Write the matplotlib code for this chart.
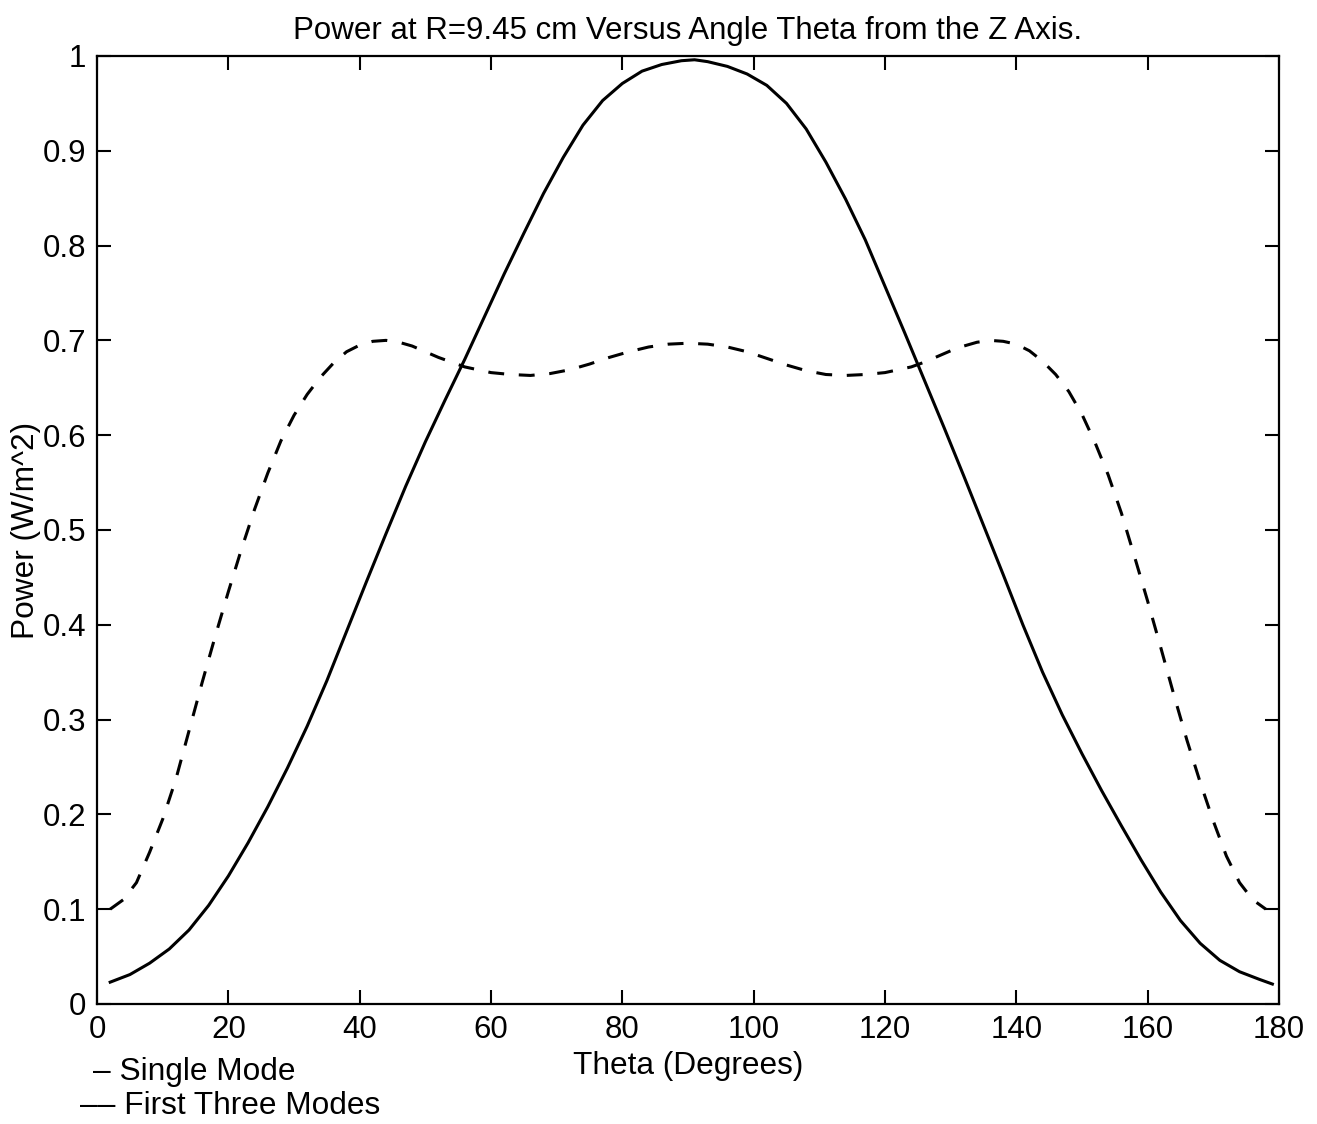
import numpy as np
import matplotlib.pyplot as plt

plt.rcParams['font.family'] = ['Liberation Sans', 'DejaVu Sans']

# Single mode: power vs theta
theta_single = [2, 5, 8, 11, 14, 17, 20, 23, 26, 29, 32, 35, 38, 41, 44, 47, 50,
                53, 56, 59, 62, 65, 68, 71, 74, 77, 80, 83, 86, 89, 91, 93, 96,
                99, 102, 105, 108, 111, 114, 117, 120, 123, 126, 129, 132, 135,
                138, 141, 144, 147, 150, 153, 156, 159, 162, 165, 168, 171, 174,
                177, 179]
power_single = [0.023, 0.031, 0.043, 0.058, 0.078, 0.104, 0.135, 0.170, 0.208,
                0.249, 0.293, 0.341, 0.393, 0.445, 0.496, 0.546, 0.593, 0.637,
                0.680, 0.725, 0.770, 0.813, 0.855, 0.893, 0.927, 0.953, 0.971,
                0.984, 0.991, 0.995, 0.996, 0.994, 0.989, 0.981, 0.969, 0.950,
                0.923, 0.888, 0.849, 0.806, 0.757, 0.708, 0.658, 0.608, 0.557,
                0.505, 0.453, 0.400, 0.350, 0.305, 0.264, 0.225, 0.188, 0.152,
                0.118, 0.088, 0.064, 0.046, 0.034, 0.026, 0.021]

# First three modes
theta_three = [2, 4, 6, 8, 10, 12, 14, 16, 18, 20, 22, 24, 26, 28, 30, 32, 34,
               36, 38, 40, 42, 44, 46, 48, 50, 52, 54, 56, 58, 60, 63, 66, 69,
               72, 75, 78, 81, 84, 87, 90, 93, 96, 99, 102, 105, 108, 111, 114,
               117, 120, 122, 124, 126, 128, 130, 132, 134, 136, 138, 140, 142,
               144, 146, 148, 150, 152, 154, 156, 158, 160, 162, 164, 166, 168,
               170, 172, 174, 176, 178]
power_three = [0.100, 0.110, 0.128, 0.160, 0.195, 0.237, 0.288, 0.339, 0.388,
               0.435, 0.480, 0.522, 0.560, 0.594, 0.621, 0.643, 0.661, 0.676,
               0.688, 0.695, 0.699, 0.700, 0.698, 0.694, 0.688, 0.682, 0.677,
               0.672, 0.669, 0.666, 0.664, 0.663, 0.665, 0.669, 0.675, 0.682,
               0.688, 0.693, 0.696, 0.697, 0.696, 0.693, 0.688, 0.681, 0.674,
               0.668, 0.664, 0.663, 0.664, 0.666, 0.669, 0.672, 0.677, 0.683,
               0.689, 0.694, 0.698, 0.700, 0.699, 0.696, 0.689, 0.678, 0.664,
               0.646, 0.622, 0.592, 0.558, 0.518, 0.472, 0.425, 0.376, 0.326,
               0.278, 0.234, 0.193, 0.156, 0.128, 0.110, 0.100]

xticks = np.arange(0, 181, 20)
yticks = np.arange(0, 1.01, 0.1)
yticklabels = ['0', '0.1', '0.2', '0.3', '0.4', '0.5', '0.6', '0.7', '0.8', '0.9', '1']

fig = plt.figure(figsize=(13.17, 11.24), dpi=100)
ax = fig.add_axes([0.0737, 0.1068, 0.8974, 0.8434])

ax.plot(theta_single, power_single, color='black', lw=2.2)
ax.plot(theta_three, power_three, color='black', lw=2.2, dashes=(5.2, 4.8))

ax.set_xlim(0, 180)
ax.set_ylim(0, 1)
ax.set_xticks(xticks)
ax.set_yticks(yticks)
ax.set_yticklabels(yticklabels)
ax.tick_params(direction='in', length=10, width=1.5, labelsize=22.5,
               top=True, right=True, pad=8)
for s in ax.spines.values():
    s.set_linewidth(1.6)

ax.set_title('Power at R=9.45 cm Versus Angle Theta from the Z Axis.',
             fontsize=22.5, pad=12)
ax.set_xlabel('Theta (Degrees)', fontsize=22.8, labelpad=4)
ax.set_ylabel('Power (W/m^2)', fontsize=22.8, labelpad=1)

# legend notes under the axes
fig.text(93 / 1317, 1 - 1072 / 1124, '\u2013 Single Mode', fontsize=22.8, va='center')
fig.text(80 / 1317, 1 - 1106 / 1124, '\u2013\u2013 First Three Modes', fontsize=22.8, va='center')

fig.savefig('out.png', dpi=100)
